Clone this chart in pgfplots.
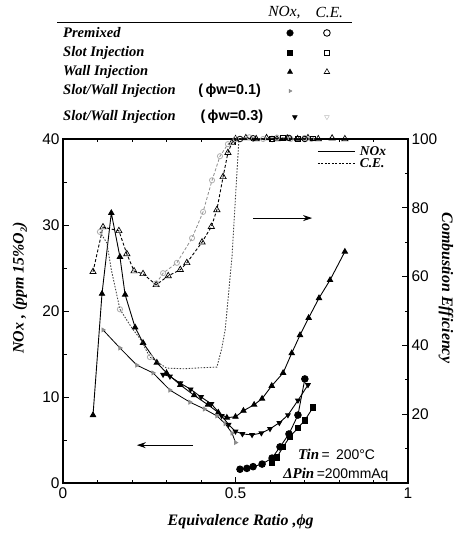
\documentclass[border=0pt]{standalone}
\usepackage{pgfplots}
\pgfplotsset{compat=1.18}
\usepackage{fontspec}
\setmainfont{Liberation Serif}
\newfontfamily\arialf{Liberation Sans}
\usetikzlibrary{arrows.meta}
\newcommand{\bi}{\bfseries\itshape}
\definecolor{lg}{gray}{0.55}
\begin{document}
\begin{tikzpicture}[x=1bp,y=1bp]
\useasboundingbox (-63,-50) rectangle (397,483);
\begin{axis}[
  at={(0,0)}, anchor=south west,
  scale only axis, width=345bp, height=344bp,
  xmin=0, xmax=1, ymin=0, ymax=40,
  clip=false,
  tick align=inside,
  xtick={0,0.5,1}, xticklabels={0,0.5,1},
  minor xtick={0.1,0.2,0.3,0.4,0.6,0.7,0.8,0.9},
  ytick={0,10,20,30,40}, minor ytick={5,15,25,35},
  ytick pos=left, xtick pos=both,
  major tick length=6bp, minor tick length=3.5bp,
  axis line style={line width=1.1pt},
  every tick/.style={line width=0.8pt,black},
  tick label style={font=\arialf\fontsize{15.5}{17}\selectfont},
  /pgf/number format/assume math mode=true,
  xticklabel style={yshift=-1bp},
]
% ---- NOx (left axis) ----
% Wall injection
\addplot[black, line width=0.9pt, mark=triangle*, mark size=3bp] coordinates {
(0.087,7.9)(0.113,22)(0.14,31.4)(0.165,26.3)(0.18,21.9)(0.209,18.1)(0.232,16.3)(0.272,14)(0.30,12.8)
(0.34,11.4)(0.38,10.2)(0.42,9.1)(0.45,8.2)(0.475,7.6)(0.50,7.7)(0.523,8.4)(0.554,9.1)(0.577,9.8)
(0.605,11.3)(0.638,12.8)(0.663,15.1)(0.687,17.2)(0.712,19.2)(0.742,21.5)(0.774,23.6)(0.817,26.9)};
% Slot/Wall phi_w=0.1
\addplot[black, line width=0.8pt, mark=triangle*, mark size=2.2bp, mark options={lg, rotate=-90}] coordinates {
(0.116,17.8)(0.165,15.7)(0.214,13.7)(0.261,12.8)(0.31,10.8)(0.368,9.4)(0.41,8.6)(0.446,7.8)(0.47,6.9)(0.49,5.8)(0.5,4.7)};
% Slot/Wall phi_w=0.3
\addplot[black, line width=0.9pt, mark=triangle*, mark size=2.6bp, mark options={rotate=180}] coordinates {
(0.29,12.6)(0.31,12.4)(0.34,11.6)(0.37,10.9)(0.40,10.0)(0.43,9.2)(0.46,7.8)(0.48,6.8)(0.50,6.0)
(0.52,5.7)(0.548,5.6)(0.575,5.8)(0.6,6.3)(0.627,7.0)(0.652,7.9)(0.681,9.6)(0.71,11.4)};
% Premixed
\addplot[black, line width=0.9pt, mark=*, mark size=3.3bp] coordinates {
(0.513,1.6)(0.533,1.7)(0.551,1.9)(0.577,2.2)(0.606,2.9)(0.629,4.2)(0.655,5.7)(0.681,7.9)(0.701,12.1)};
% Slot injection
\addplot[black, line width=0.9pt, mark=square*, mark size=2.8bp] coordinates {
(0.606,2.4)(0.62,3.0)(0.638,4.2)(0.658,5.4)(0.681,6.4)(0.701,7.3)(0.725,8.8)};
% ---- legend table marks ----
\addplot[only marks, black, mark=*, mark size=3.3bp] coordinates {(0.658,52.33)};
\addplot[only marks, black, mark=o, mark size=3.3bp, mark options={line width=0.9pt}] coordinates {(0.765,52.33)};
\addplot[only marks, black, mark=square*, mark size=2.6bp] coordinates {(0.658,50.0)};
\addplot[only marks, black, mark=square, mark size=2.6bp, mark options={line width=0.9pt}] coordinates {(0.765,50.0)};
\addplot[only marks, black, mark=triangle*, mark size=3bp] coordinates {(0.658,47.8)};
\addplot[only marks, black, mark=triangle, mark size=3.2bp, mark options={line width=0.6pt}] coordinates {(0.765,47.8)};
\addplot[only marks, lg, mark=triangle*, mark size=2bp, mark options={rotate=-90}] coordinates {(0.658,45.58)};
\addplot[only marks, black, mark=triangle*, mark size=2.8bp, mark options={rotate=180}] coordinates {(0.672,42.56)};
\addplot[only marks, lg!60, mark=triangle, mark size=2.8bp, mark options={rotate=180}] coordinates {(0.765,42.56)};
% ---- legend table text ----
\draw[line width=0.9pt] (axis cs:-0.017,53.5) -- (axis cs:0.838,53.5);
\node[anchor=west, font=\itshape\fontsize{15.5}{17}\selectfont] at (axis cs:0.585,54.75) {NOx,};
\node[anchor=west, font=\itshape\fontsize{15.5}{17}\selectfont] at (axis cs:0.722,54.75) {C.E.};
\begin{scope}[every node/.style={anchor=west, font=\bi\fontsize{14.6}{16}\selectfont, inner sep=0pt}]
\node at (axis cs:0,52.33) {Premixed};
\node at (axis cs:0,50.0) {Slot Injection};
\node at (axis cs:0,47.8) {Wall Injection};
\node at (axis cs:0,45.58) {Slot/Wall Injection};
\node at (axis cs:0,42.56) {Slot/Wall Injection};
\node[font=\arialf\bfseries\fontsize{14.5}{16}\selectfont] at (axis cs:0.392,45.58) {(\,ϕw=0.1)};
\node[font=\arialf\bfseries\fontsize{14.5}{16}\selectfont] at (axis cs:0.398,42.56) {(\,ϕw=0.3)};
\end{scope}
% ---- annotations ----
\draw[-{Stealth[length=9bp,width=6bp]}, line width=1pt] (axis cs:0.551,30.8) -- (axis cs:0.722,30.8);
\draw[-{Stealth[length=9bp,width=6bp]}, line width=1pt] (axis cs:0.377,4.4) -- (axis cs:0.214,4.4);
\draw[line width=0.9pt] (axis cs:0.739,38.55) -- (axis cs:0.846,38.55);
\draw[line width=0.9pt, dash pattern=on 2pt off 1.5pt] (axis cs:0.739,37.15) -- (axis cs:0.846,37.15);
\node[anchor=west, inner sep=0pt, font=\bfseries\itshape\fontsize{13.5}{15}\selectfont] at (axis cs:0.86,38.55) {NOx};
\node[anchor=west, inner sep=0pt, font=\bfseries\itshape\fontsize{13.5}{15}\selectfont] at (axis cs:0.86,37.15) {C.E.};
\node[anchor=west, inner sep=0pt] at (axis cs:0.681,3.3) {{\bi\fontsize{15}{17}\selectfont Tin} {\arialf\fontsize{14}{16}\selectfont = \,200°C}};
\node[anchor=west, inner sep=0pt] at (axis cs:0.638,1.0) {{\bi\fontsize{15}{17}\selectfont ΔPin} {\arialf\fontsize{14}{16}\selectfont =200mmAq}};
% ---- axis labels ----
\node[font=\bi\fontsize{16}{18}\selectfont] at (axis cs:0.515,-4.5) {Equivalence Ratio ,ϕg};
\node[rotate=90, font=\bi\fontsize{16}{18}\selectfont] at (axis cs:-0.125,22.7) {NOx , (ppm 15\%O₂)};
\node[rotate=-90, inner sep=0pt, font=\bi\fontsize{16}{18}\selectfont] at (axis cs:1.11,22.7) {Combustion Efficiency};
\end{axis}
\begin{axis}[
  at={(0,0)}, anchor=south west,
  scale only axis, width=345bp, height=344bp,
  xmin=0, xmax=1, ymin=0, ymax=100,
  clip=false,
  axis x line=none, axis y line*=right,
  tick align=inside,
  ytick={20,40,60,80,100}, minor ytick={10,30,50,70,90},
  major tick length=6bp, minor tick length=3.5bp,
  axis line style={line width=1.1pt},
  every tick/.style={line width=0.8pt,black},
  tick label style={font=\arialf\fontsize{15.5}{17}\selectfont},
  /pgf/number format/assume math mode=true,
]
% Wall injection C.E.
\addplot[black, line width=0.9pt, dash pattern=on 3pt off 2pt, mark=triangle, mark size=3.6bp, mark options={solid, line width=0.7pt}] coordinates {
(0.087,61.4)(0.116,74.4)(0.162,73.3)(0.185,66.6)(0.206,61.6)(0.232,60.8)(0.27,57.6)(0.305,60.2)(0.34,62)
(0.359,64)(0.403,70)(0.43,74.5)(0.446,79.4)(0.464,89)(0.478,96)(0.49,99)(0.50,100)(0.53,100.3)(0.56,100)
(0.59,100.3)(0.62,100)(0.65,100.2)(0.68,100)(0.71,100.3)(0.74,100)(0.78,100.2)(0.817,100)};
% Slot/Wall C.E. (grey, left rising)
\addplot[lg, line width=0.8pt, dash pattern=on 3pt off 2pt, mark=o, mark size=2.6bp, mark options={solid, lg!70}] coordinates {
(0.27,58)(0.29,61)(0.33,64)(0.374,71.2)(0.406,78.8)(0.432,88)(0.455,95)(0.478,98.5)(0.5,100)(0.54,100.5)
(0.58,100)(0.62,100.4)(0.66,100)(0.70,100.3)(0.72,100)};
% dotted C.E. curve
\addplot[black!75, line width=0.9pt, dash pattern=on 1.5pt off 1.5pt, mark=o, mark size=2.6bp, mark indices={1,4,7}, mark options={solid, lg!70}] coordinates {
(0.107,73)(0.127,69.8)(0.14,62)(0.165,50.5)(0.2,45)(0.223,42)(0.252,36.6)(0.30,33.4)(0.35,33.2)(0.40,33.5)
(0.446,33.7)(0.46,39)(0.47,44.5)(0.478,53)(0.49,66)(0.504,90)(0.51,100)(0.55,100)(0.6,100.2)(0.65,100)(0.7,100.2)(0.72,100)};
% Premixed / slot C.E. at full combustion
\addplot[black, line width=0.8pt, dash pattern=on 3pt off 2pt, mark=o, mark size=2.8bp, mark options={solid}] coordinates {
(0.513,100)(0.551,100.2)(0.606,100)(0.655,100.3)(0.701,100)};
\addplot[black, line width=0.8pt, dash pattern=on 3pt off 2pt, mark=square, mark size=2.4bp, mark options={solid}] coordinates {
(0.606,100)(0.638,100.3)(0.681,100)(0.725,100.2)};
\end{axis}
\end{tikzpicture}
\end{document}
